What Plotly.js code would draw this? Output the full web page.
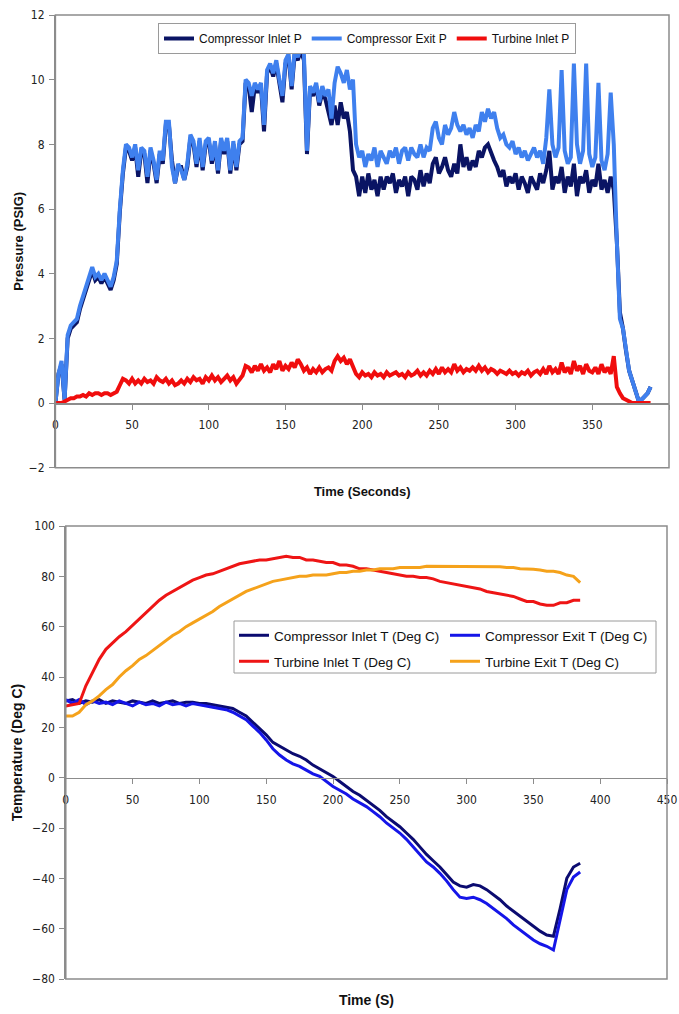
<!DOCTYPE html>
<html><head><meta charset="utf-8">
<script src="https://cdn.plot.ly/plotly-3.0.1.min.js"></script>
<style>html,body{margin:0;padding:0;background:#fff;}#chart{width:679px;height:1014px;}</style>
</head><body><div id="chart"></div>
<script>
// ---------- Pressure chart data (time in seconds) ----------
const pressureTime = [
0,2,4,6,8,10,12,14,16,18,
20,22,24,26,28,30,32,34,36,38,
40,42,44,46,48,50,52,54,56,58,
60,62,64,66,68,70,72,74,76,78,
80,82,84,86,88,90,92,94,96,98,
100,102,104,106,108,110,112,114,116,118,
120,122,124,126,128,130,132,134,136,138,
140,142,144,146,148,150,152,154,156,158,
160,162,164,166,168,170,172,174,176,178,
180,182,184,186,188,190,192,194,196,198,
200,202,204,206,208,210,212,214,216,218,
220,222,224,226,228,230,232,234,236,238,
240,242,244,246,248,250,252,254,256,258,
260,262,264,266,268,270,272,274,276,278,
280,282,284,286,288,290,292,294,296,298,
300,302,304,306,308,310,312,314,316,318,
320,322,324,326,328,330,332,334,336,338,
340,342,344,346,348,350,352,354,356,358,
360,362,364,366,368,370,372,374,376,378,
380,382,384,386,388];
const compressorInletP = [
0.0,0.9,1.2,0.1,2.0,2.3,2.4,2.5,2.9,3.2,
3.5,3.9,4.1,3.8,3.9,3.7,3.9,3.7,3.5,3.8,
4.3,5.9,7.1,7.9,7.8,7.5,7.9,7.0,7.8,7.7,
6.8,7.8,7.4,6.8,7.7,7.4,8.6,8.6,7.5,6.8,
7.3,7.3,6.9,7.3,8.2,8.0,7.3,8.1,7.2,8.0,
8.1,7.4,8.0,7.1,8.1,7.7,8.1,7.1,8.0,7.2,
8.0,8.1,9.9,9.8,9.0,9.8,9.6,9.8,8.4,10.2,
10.4,10.1,10.5,9.9,9.3,10.5,10.7,9.7,10.8,10.6,
10.9,10.6,7.7,9.7,9.5,9.8,9.2,9.6,9.4,9.0,
8.6,9.2,8.6,9.3,8.8,9.0,8.4,7.2,7.0,6.4,
7.0,6.5,7.1,6.6,6.9,6.4,7.0,6.6,7.0,6.8,
7.1,6.5,6.9,6.7,7.0,6.4,7.0,6.9,6.6,7.2,
6.7,7.1,6.8,7.4,7.6,7.1,7.3,7.6,7.2,7.0,
7.4,7.1,8.0,7.3,7.6,7.2,7.5,7.3,7.8,7.6,
7.9,8.0,7.7,7.5,7.3,7.0,7.2,6.7,7.0,6.8,
7.1,6.6,7.0,6.8,6.5,7.0,6.8,6.6,7.1,6.8,
7.2,7.8,6.6,7.0,6.8,7.3,6.5,7.0,6.7,7.4,
6.4,7.0,6.8,7.2,6.5,6.9,6.7,7.4,6.6,6.9,
6.5,7.0,6.6,5.0,2.8,2.3,1.6,1.0,0.7,0.4,
0.1,0.1,0.2,0.3,0.5];
const compressorExitP = [
0.0,0.9,1.3,0.1,2.1,2.4,2.5,2.6,3.0,3.3,
3.6,4.0,4.2,3.9,4.0,3.8,4.0,3.8,3.6,3.9,
4.4,6.0,7.2,8.0,7.9,7.6,8.0,7.2,7.9,7.8,
7.0,7.9,7.5,6.9,7.8,7.5,8.7,8.7,7.3,6.8,
7.4,7.2,6.9,7.4,8.3,8.1,7.4,8.2,7.3,8.1,
8.2,7.5,8.1,7.2,8.2,7.8,8.2,7.2,8.1,7.3,
8.1,8.2,10.0,9.9,9.5,9.9,9.7,9.9,8.6,10.3,
10.5,10.2,10.6,10.0,9.5,10.6,10.8,9.8,10.9,10.7,
11.0,10.8,7.8,9.8,9.6,9.9,9.3,9.8,9.5,9.7,
8.8,9.9,10.4,10.2,9.9,10.3,9.7,10.0,8.0,7.6,
7.8,7.3,7.7,7.5,7.9,7.3,7.8,7.6,7.4,7.8,
7.6,7.9,7.4,7.8,7.9,7.5,7.9,7.7,7.6,8.0,
7.6,7.9,7.8,8.5,8.7,8.2,8.0,8.6,8.3,8.5,
9.0,8.6,8.4,8.6,8.3,8.5,8.2,8.6,8.4,9.0,
8.7,9.1,8.8,9.0,8.5,8.2,8.3,8.0,7.9,8.1,
7.7,7.9,7.6,7.8,7.5,7.7,7.9,7.6,7.8,7.4,
8.2,9.7,8.0,7.6,7.9,10.3,7.8,7.4,7.6,10.5,
8.0,7.4,7.8,10.5,7.7,7.3,7.6,9.9,7.5,7.2,
7.7,9.6,8.0,5.0,2.6,2.3,1.6,1.0,0.7,0.4,
0.1,0.1,0.2,0.3,0.5];
const turbineInletP = [
0.0,0.0,0.0,0.05,0.1,0.15,0.15,0.2,0.2,0.25,
0.2,0.3,0.25,0.3,0.3,0.25,0.3,0.3,0.25,0.3,
0.35,0.55,0.75,0.7,0.6,0.75,0.6,0.7,0.6,0.75,
0.65,0.7,0.6,0.8,0.7,0.65,0.75,0.6,0.7,0.55,
0.6,0.7,0.6,0.75,0.65,0.8,0.7,0.75,0.6,0.8,
0.7,0.85,0.7,0.8,0.65,0.75,0.85,0.7,0.8,0.6,
0.75,0.85,1.15,1.1,0.95,1.15,1.0,1.2,1.0,1.1,
0.95,1.2,1.05,1.3,1.0,1.15,1.05,1.25,1.1,1.35,
1.2,1.0,1.1,0.9,1.05,0.95,1.1,0.95,1.05,1.1,
1.0,1.3,1.45,1.3,1.4,1.2,1.35,1.1,0.9,0.8,
0.95,0.85,0.9,0.8,0.95,0.85,0.9,0.8,0.95,0.85,
0.9,0.95,0.85,0.9,0.8,0.95,0.85,0.9,1.0,0.85,
0.95,0.85,1.0,0.9,1.05,0.9,1.1,0.95,1.05,0.95,
1.2,1.0,1.1,0.95,1.05,1.0,1.1,1.0,1.15,1.0,
1.1,0.95,1.05,1.0,0.9,1.0,0.95,0.9,1.0,0.9,
0.95,0.85,0.95,0.9,1.0,0.85,0.95,1.0,0.9,1.05,
0.9,1.15,0.95,1.05,0.9,1.25,0.95,1.1,0.9,1.3,
1.0,1.15,0.9,1.2,1.0,0.95,1.1,0.9,1.2,0.95,
1.1,0.9,1.45,0.5,0.3,0.15,0.1,0.05,0.0,0.0,
0.0,0.0,0.0,0.0,0.0];

// ---------- Temperature chart data (time in seconds) ----------
const tempTime = [
0,5,10,15,20,25,30,35,40,45,
50,55,60,65,70,75,80,85,90,95,
100,105,110,115,120,125,130,135,140,145,
150,155,160,165,170,175,180,185,190,195,
200,205,210,215,220,225,230,235,240,245,
250,255,260,265,270,275,280,285,290,295,
300,305,310,315,320,325,330,335,340,345,
350,355,360,365,370,375,380,385];
const compressorInletT = [
30.5,31,29.5,30.5,30,31,29.5,30.5,30,29.5,
30.5,30,29.5,30.5,29.5,30,30.5,29.5,30,30,
29.5,29.5,29,28.5,28,27.5,26,24.5,22,19.5,
17,14,12.5,11,9.5,8.5,7,5,3.5,2,
0.5,-1.5,-3.5,-5.5,-7,-9,-11,-13,-15.5,-17.5,
-19.5,-22,-24.5,-27.5,-30.5,-33,-35.5,-38.5,-41.5,-43,
-43.5,-42.5,-43,-44.5,-46.5,-48.5,-51,-53,-55,-57,
-59,-61,-62.5,-63,-52,-40,-35.5,-34];
const compressorExitT = [
31,29.5,31,29,30.5,29.5,30,29,30.5,29.5,
28.5,30,29,29.5,28.5,30,29,29.5,28.5,29.5,
29,28.5,28,27.5,27,26,24.5,23,20.5,18,
15,11.5,9,7,5.5,4.5,3,1.5,0.5,-1.5,
-3.5,-5,-6.5,-8.5,-10,-11.5,-13.5,-15.5,-18,-20,
-22,-24.5,-27.5,-30.5,-33.5,-35.5,-38,-41,-44.5,-47.5,
-48,-47.5,-48.5,-50,-52,-54,-56,-58.5,-60.5,-62.5,
-64.5,-66,-67,-68.5,-57,-44.5,-39.5,-37.5];
const turbineInletT = [
28.5,29,29.5,36.5,42,47,51,53.5,56,58,
60.5,63,65.5,68,70.5,72.5,74,75.5,77,78.5,
79.5,80.5,81,82,83,84,85,85.5,86,86.5,
86.5,87,87.5,88,87.5,87.5,86.5,86.5,86,85.5,
85.5,84.5,84.5,84,83,83,82.5,82,81.5,81,
80.5,80,80,79.5,79.5,79,78,77.5,77,76.5,
76,75.5,75,74,73.5,73,72.5,72,71,70,
70,69,68.5,68.5,69.5,69.5,70.5,70.5];
const turbineExitT = [
24.5,24.5,26,29,30.5,32.5,35,37,40,42.5,
44.5,47,48.5,50.5,52.5,54.5,56.5,58,60,61.5,
63,64.5,66,68,69.5,71,72.5,74,75,76,
77,78,78.5,79,79.5,80,80,80.5,80.5,80.5,
81,81.5,81.5,82,82,82.5,82.5,83,83,83,
83.5,83.5,83.5,83.5,84,84,84,84,84,84,
84,84,84,84,84,83.8,83.5,83.5,83,83,
82.8,82.5,82,82,81.5,80.5,80,77.5];

// ---------- Tick values ----------
const pressureTicks = [-2,0,2,4,6,8,10,12];
const pressureTimeTicks = [0,50,100,150,200,250,300,350,400];
const tempTicks = [-80,-60,-40,-20,0,20,40,60,80,100];
const tempTimeTicks = [0,50,100,150,200,250,300,350,400,450];

// ---------- Layout geometry ----------
const W = 679, H = 1014;
const grey = '#8c8c8c';
const narrow = '"Liberation Sans Narrow","Arial Narrow","DejaVu Sans Condensed","Liberation Sans",Arial,sans-serif';
const sans = '"Liberation Sans",Arial,sans-serif';
const tickFont = {family: narrow, size: 12, color: '#222'};
const topDom = [(H - 467.7) / H, (H - 15) / H];
const botDom = [(H - 979) / H, (H - 526) / H];
const topX = [55.4 / W, 669 / W];
const botX = [65.8 / W, 667 / W];
const topZero = topDom[0] + (2 / 14) * (topDom[1] - topDom[0]);
const botZero = botDom[0] + (80 / 180) * (botDom[1] - botDom[0]);

const traces = [
  {x: pressureTime, y: compressorInletP, name: 'Compressor Inlet P', type: 'scatter', mode: 'lines',
   line: {color: '#0a1464', width: 4}, xaxis: 'x', yaxis: 'y', legend: 'legend'},
  {x: pressureTime, y: compressorExitP, name: 'Compressor Exit P', type: 'scatter', mode: 'lines',
   line: {color: '#3f80ee', width: 4}, xaxis: 'x', yaxis: 'y', legend: 'legend'},
  {x: pressureTime, y: turbineInletP, name: 'Turbine Inlet P', type: 'scatter', mode: 'lines',
   line: {color: '#f00d0d', width: 4}, xaxis: 'x', yaxis: 'y', legend: 'legend'},
  {x: [], y: [], xaxis: 'x3', yaxis: 'y', showlegend: false, hoverinfo: 'skip', type: 'scatter'},
  {x: tempTime, y: compressorInletT, name: 'Compressor Inlet T (Deg C)', type: 'scatter', mode: 'lines',
   line: {color: '#0b0b70', width: 3}, xaxis: 'x2', yaxis: 'y2', legend: 'legend2'},
  {x: tempTime, y: compressorExitT, name: 'Compressor Exit T (Deg C)', type: 'scatter', mode: 'lines',
   line: {color: '#1515e8', width: 3}, xaxis: 'x2', yaxis: 'y2', legend: 'legend2'},
  {x: tempTime, y: turbineInletT, name: 'Turbine Inlet T (Deg C)', type: 'scatter', mode: 'lines',
   line: {color: '#ee1515', width: 3}, xaxis: 'x2', yaxis: 'y2', legend: 'legend3'},
  {x: tempTime, y: turbineExitT, name: 'Turbine Exit T (Deg C)', type: 'scatter', mode: 'lines',
   line: {color: '#f5a21b', width: 3}, xaxis: 'x2', yaxis: 'y2', legend: 'legend3'},
  {x: [], y: [], xaxis: 'x4', yaxis: 'y2', showlegend: false, hoverinfo: 'skip', type: 'scatter'}
];

const freeX = (over, pos, rng, tv) => ({
  overlaying: over, anchor: 'free', position: pos, range: rng, tickvals: tv,
  ticks: 'outside', ticklen: 5, tickcolor: grey, tickwidth: 1,
  showline: true, linecolor: grey, linewidth: 1.5, showgrid: false, zeroline: false,
  tickfont: tickFont, ticklabelstandoff: 5, automargin: false
});

const bottomLegend = (yTop) => ({
  x: 234 / W, y: (H - yTop) / H, xanchor: 'left', yanchor: 'top', orientation: 'h',
  bgcolor: 'rgba(0,0,0,0)', borderwidth: 0, itemwidth: 30,
  entrywidth: 166, entrywidthmode: 'pixels',
  font: {family: sans, size: 13.5, color: '#111'}
});

const layout = {
  width: W, height: H, margin: {l: 0, r: 0, t: 0, b: 0, autoexpand: false},
  paper_bgcolor: '#ffffff', plot_bgcolor: '#ffffff', showlegend: true,
  xaxis: {domain: topX, anchor: 'y', range: [0, 400], showticklabels: false, ticks: '',
    showgrid: false, zeroline: false, showline: false, automargin: false,
    title: {text: 'Time (Seconds)', font: {family: sans, size: 13, color: '#111', weight: 700}, standoff: 19}},
  xaxis3: freeX('x', topZero, [0, 400], pressureTimeTicks),
  yaxis: {domain: topDom, anchor: 'x', range: [-2, 12], tickvals: pressureTicks,
    ticks: 'outside', ticklen: 5, tickcolor: grey, showline: true, linecolor: grey, linewidth: 1.5,
    showgrid: false, zeroline: false, tickfont: tickFont, automargin: false, ticklabelstandoff: 2,
    title: {text: 'Pressure (PSIG)', font: {family: sans, size: 13, color: '#111', weight: 700}, standoff: 2}},
  xaxis2: {domain: botX, anchor: 'y2', range: [0, 450], showticklabels: false, ticks: '',
    showgrid: false, zeroline: false, showline: false, automargin: false,
    title: {text: 'Time (S)', font: {family: sans, size: 14, color: '#111', weight: 700}, standoff: 16}},
  xaxis4: freeX('x2', botZero, [0, 450], tempTimeTicks),
  yaxis2: {domain: botDom, anchor: 'x2', range: [-80, 100], tickvals: tempTicks,
    ticks: 'outside', ticklen: 5, tickcolor: grey, showline: true, linecolor: grey, linewidth: 1.5,
    showgrid: false, zeroline: false, tickfont: tickFont, automargin: false, ticklabelstandoff: 2,
    title: {text: 'Temperature (Deg C)', font: {family: sans, size: 14, color: '#111', weight: 700}, standoff: 6}},
  legend: {x: 158 / W, y: (H - 23) / H, xanchor: 'left', yanchor: 'top', orientation: 'h',
    bgcolor: '#ffffff', bordercolor: '#9a9a9a', borderwidth: 1, itemwidth: 30,
    font: {family: sans, size: 12, color: '#111'}},
  legend2: bottomLegend(620),
  legend3: bottomLegend(646),
  shapes: [
    {type: 'rect', xref: 'x domain', yref: 'y domain', x0: 0, x1: 1, y0: 0, y1: 1,
     line: {color: grey, width: 1.5}, fillcolor: 'rgba(0,0,0,0)', layer: 'above'},
    {type: 'rect', xref: 'x2 domain', yref: 'y2 domain', x0: 0, x1: 1, y0: 0, y1: 1,
     line: {color: grey, width: 1.5}, fillcolor: 'rgba(0,0,0,0)', layer: 'above'},
    {type: 'rect', xref: 'paper', yref: 'paper', x0: 234 / W, x1: 656 / W, y0: (H - 673) / H, y1: (H - 621) / H,
     line: {color: '#9a9a9a', width: 1}, fillcolor: '#ffffff', layer: 'below'}
  ]
};

Plotly.newPlot('chart', traces, layout, {displayModeBar: false, staticPlot: true});
</script>
</body></html>
